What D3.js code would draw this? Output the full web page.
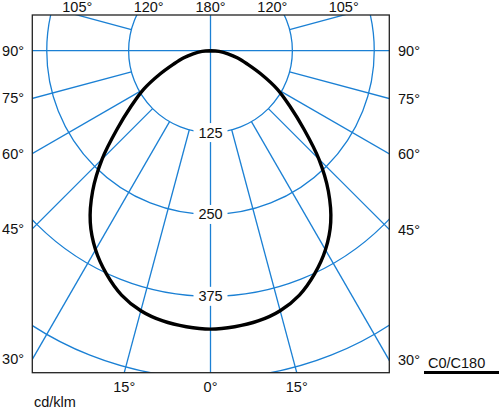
<!DOCTYPE html>
<html>
<head>
<meta charset="utf-8">
<script src="https://cdn.jsdelivr.net/npm/d3@7"></script>
<style>
  html, body { margin: 0; padding: 0; background: #fff; }
  svg { display: block; }
  text { font-family: "Liberation Sans", Arial, sans-serif; font-size: 14.5px; fill: #111; }
</style>
</head>
<body>
<svg id="chart" width="500" height="409"></svg>
<script>
// ---- data (cd/klm) ----
const gammaAngles = [0, 5, 10, 15, 20, 25, 30, 35, 40, 45, 50, 55, 60, 65, 70, 75, 80, 85, 90];
const c0Values   = [425, 423, 419, 411, 397, 376, 351, 320, 280, 234, 186, 148, 118, 86, 60, 43, 27, 13, 0];
const c180Values = [425, 423, 419, 411, 397, 376, 351, 320, 280, 234, 186, 148, 118, 86, 60, 43, 27, 13, 0];
const radialTicks = [125, 250, 375, 500];
const radialLabels = ["125", "250", "375"];
const angleGrid = [15, 30, 45, 60, 75, 105, 120, 135, 150, 165];
const angleLabelsSide = [15, 30, 45, 60, 75, 90, 105, 120];
const angleLabelsCenter = [0, 180];
const unitLabel = "cd/klm";
const legendLabel = "C0/C180";

// ---- layout ----
const svg = d3.select("#chart");
const frame = { x0: 32.3, y0: 15, x1: 389.3, y1: 372.7 };
const cx = 210.5, cy = 50.7;
const r = d3.scaleLinear().domain([0, 500]).range([0, 327.5]);
const gridColor = "#1b80d4";
const rad = d => d * Math.PI / 180;

svg.append("defs").append("clipPath").attr("id", "frameClip")
  .append("rect").attr("x", frame.x0).attr("y", frame.y0)
  .attr("width", frame.x1 - frame.x0).attr("height", frame.y1 - frame.y0);

const grid = svg.append("g").attr("clip-path", "url(#frameClip)");

// circles
grid.selectAll("circle.ring").data(radialTicks).enter().append("circle")
  .attr("class", "ring").attr("cx", cx).attr("cy", cy).attr("r", d => r(d))
  .attr("fill", "none").attr("stroke", gridColor).attr("stroke-width", 1.3);

// point at polar (gamma deg from down, value, side -1 left / +1 right)
const pt = (g, v, side) => [cx + side * r(v) * Math.sin(rad(g)), cy + r(v) * Math.cos(rad(g))];

// radial lines from the 125 ring outward
const radial = [];
angleGrid.forEach(a => { radial.push([a, -1]); radial.push([a, 1]); });
grid.selectAll("line.rad").data(radial).enter().append("line")
  .attr("class", "rad")
  .attr("x1", d => pt(d[0], radialTicks[0], d[1])[0])
  .attr("y1", d => pt(d[0], radialTicks[0], d[1])[1])
  .attr("x2", d => pt(d[0], 1000, d[1])[0])
  .attr("y2", d => pt(d[0], 1000, d[1])[1])
  .attr("stroke", gridColor).attr("stroke-width", 1.3);

// main axes through center (0/180 and 90/90)
const axes = [[0, 1], [180, 1], [90, -1], [90, 1]];
grid.selectAll("line.axis").data(axes).enter().append("line")
  .attr("x1", cx).attr("y1", cy)
  .attr("x2", d => pt(d[0], 1000, d[1])[0])
  .attr("y2", d => pt(d[0], 1000, d[1])[1])
  .attr("stroke", gridColor).attr("stroke-width", 1.3);

// radial value labels with white background
const rl = svg.append("g");
radialLabels.forEach((t, i) => {
  const y = cy + r(radialTicks[i]);
  rl.append("rect").attr("x", cx - 17).attr("y", y - 9.5).attr("width", 34).attr("height", 19).attr("fill", "#fff");
  rl.append("text").attr("x", cx).attr("y", y + 5).attr("text-anchor", "middle").text(t);
});

// curve
const curvePts = [];
for (let i = gammaAngles.length - 1; i >= 0; i--) curvePts.push([Math.PI - rad(gammaAngles[i]), c0Values[i]]);
for (let i = 1; i < gammaAngles.length; i++) curvePts.push([Math.PI + rad(gammaAngles[i]), c180Values[i]]);
const lineR = d3.lineRadial().angle(d => d[0]).radius(d => r(d[1])).curve(d3.curveCatmullRom);
svg.append("path").attr("transform", `translate(${cx},${cy})`)
  .attr("d", lineR(curvePts)).attr("fill", "none").attr("stroke", "#000")
  .attr("stroke-width", 3.4).attr("stroke-linejoin", "round");

// frame
svg.append("rect").attr("x", frame.x0).attr("y", frame.y0)
  .attr("width", frame.x1 - frame.x0).attr("height", frame.y1 - frame.y0)
  .attr("fill", "none").attr("stroke", "#222").attr("stroke-width", 1.3);

// angle labels where lines meet the frame
function edgeHit(g, side) {
  const dx = side * Math.sin(rad(g)), dy = Math.cos(rad(g));
  let best = { t: Infinity };
  if (dx < -1e-9) { const t = (frame.x0 - cx) / dx; if (t < best.t) best = { t, edge: "left" }; }
  if (dx > 1e-9) { const t = (frame.x1 - cx) / dx; if (t < best.t) best = { t, edge: "right" }; }
  if (dy < -1e-9) { const t = (frame.y0 - cy) / dy; if (t < best.t) best = { t, edge: "top" }; }
  if (dy > 1e-9) { const t = (frame.y1 - cy) / dy; if (t < best.t) best = { t, edge: "bottom" }; }
  best.x = cx + dx * best.t; best.y = cy + dy * best.t;
  return best;
}
const labelItems = [];
angleLabelsSide.forEach(a => { labelItems.push([a, -1]); labelItems.push([a, 1]); });
angleLabelsCenter.forEach(a => labelItems.push([a, 1]));
const al = svg.append("g");
labelItems.forEach(([a, side]) => {
  const h = edgeHit(a, side);
  let x, y, anchor;
  if (h.edge === "left") { x = 24; y = h.y + 5; anchor = "end"; }
  else if (h.edge === "right") { x = 398; y = h.y + 5; anchor = "start"; }
  else if (h.edge === "top") { x = h.x; y = 11.5; anchor = "middle"; }
  else { x = h.x; y = 392; anchor = "middle"; }
  al.append("text").attr("x", x).attr("y", y).attr("text-anchor", anchor).text(a + "°");
});

// unit and legend
svg.append("text").attr("x", 34).attr("y", 407).text(unitLabel);
svg.append("text").attr("x", 428).attr("y", 368).text(legendLabel);
svg.append("line").attr("x1", 424).attr("x2", 499).attr("y1", 372.5).attr("y2", 372.5)
  .attr("stroke", "#000").attr("stroke-width", 3);
</script>
</body>
</html>
